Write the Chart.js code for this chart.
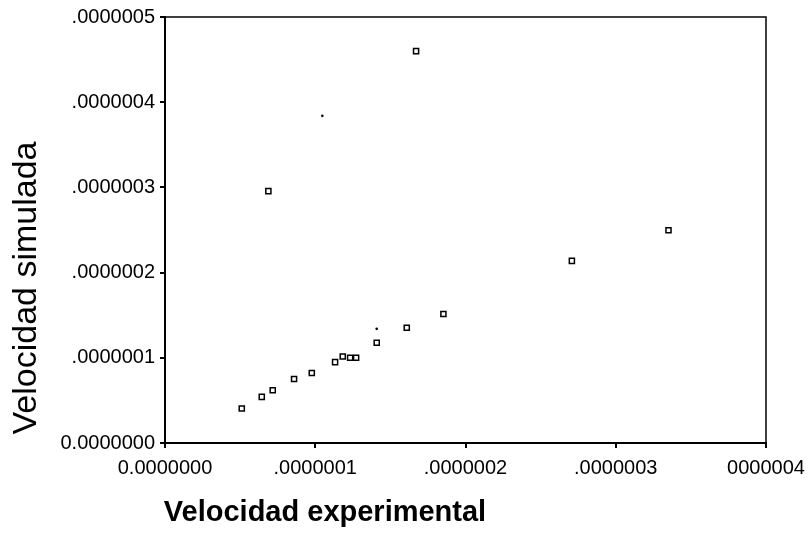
<!DOCTYPE html>
<html>
<head>
<meta charset="utf-8">
<script src="https://cdn.jsdelivr.net/npm/chart.js@4"></script>
<style>
  html, body { margin: 0; padding: 0; background: #fff; }
  #wrap { width: 810px; height: 556px; }
</style>
</head>
<body>
<div id="wrap"><canvas id="js-chart-scatter" width="810" height="556"></canvas></div>
<script>
// Data (units of m/s, tiny values)
const expSquares = [0.511e-7, 0.644e-7, 0.717e-7, 0.859e-7, 0.977e-7, 1.132e-7, 1.183e-7, 1.232e-7, 1.272e-7,
                    1.409e-7, 1.609e-7, 1.853e-7, 2.708e-7, 3.351e-7, 0.688e-7, 1.671e-7];
const simSquares = [0.405e-7, 0.541e-7, 0.619e-7, 0.751e-7, 0.821e-7, 0.949e-7, 1.016e-7, 1.001e-7, 1.001e-7,
                    1.176e-7, 1.352e-7, 1.515e-7, 2.138e-7, 2.497e-7, 2.956e-7, 4.599e-7];
const expDots = [1.047e-7, 1.409e-7];
const simDots = [3.840e-7, 1.340e-7];

const xTickValues = [0, 1e-7, 2e-7, 3e-7, 4e-7];
const xTickLabels = ['0.0000000', '.0000001', '.0000002', '.0000003', '0000004'];
const yTickValues = [0, 1e-7, 2e-7, 3e-7, 4e-7, 5e-7];
const yTickLabels = ['0.0000000', '.0000001', '.0000002', '.0000003', '.0000004', '.0000005'];

const xTitle = 'Velocidad experimental';
const yTitle = 'Velocidad simulada';

Chart.defaults.font.family = '"Liberation Sans", Arial, sans-serif';
Chart.defaults.color = '#000';

const toPoints = (xs, ys) => xs.map((x, i) => ({ x: x, y: ys[i] }));

// frame on top/right + axis titles
const framePlugin = {
  id: 'frame',
  beforeDatasetsDraw(chart) {
    const { ctx, chartArea: a } = chart;
    ctx.save();
    ctx.strokeStyle = '#000';
    ctx.lineWidth = 1.5;
    ctx.strokeRect(a.left, a.top, a.right - a.left, a.bottom - a.top);
    ctx.restore();
  },
  afterDraw(chart) {
    const ctx = chart.ctx;
    ctx.save();
    ctx.fillStyle = '#000';
    ctx.textAlign = 'center';
    ctx.textBaseline = 'middle';
    ctx.font = 'bold 29px "Liberation Sans", Arial, sans-serif';
    ctx.fillText(xTitle, 325, 513);
    ctx.translate(27, 288);
    ctx.rotate(-Math.PI / 2);
    ctx.font = '34px "Liberation Sans", Arial, sans-serif';
    ctx.fillText(yTitle, 0, 0);
    ctx.restore();
  }
};

const chartCon = document.getElementById('js-chart-scatter');

new Chart(chartCon, {
  type: 'scatter',
  data: {
    datasets: [
      {
        label: 'squares',
        data: toPoints(expSquares, simSquares),
        pointStyle: 'rect',
        pointRadius: 3.6,
        borderWidth: 1.5,
        borderColor: '#000',
        backgroundColor: '#fff',
        clip: false
      },
      {
        label: 'dots',
        data: toPoints(expDots, simDots),
        pointStyle: 'circle',
        pointRadius: 1.3,
        borderWidth: 0,
        backgroundColor: '#000',
        clip: false
      }
    ]
  },
  options: {
    responsive: false,
    devicePixelRatio: 1,
    animation: false,
    layout: { padding: { top: 15, right: 44, left: 0, bottom: 0 } },
    plugins: {
      legend: { display: false },
      tooltip: { enabled: false }
    },
    scales: {
      x: {
        type: 'linear',
        min: 0,
        max: 4e-7,
        afterBuildTicks: (scale) => { scale.ticks = xTickValues.map(v => ({ value: v })); },
        afterFit: (scale) => { scale.height = 113; scale.paddingRight = 0; scale.paddingLeft = 0; },
        border: { display: true, color: '#000', width: 2 },
        grid: { drawOnChartArea: false, drawTicks: true, tickLength: 5, color: '#000', lineWidth: 2 },
        ticks: {
          padding: 8,
          maxRotation: 0,
          autoSkip: false,
          font: { size: 20 },
          callback: (v, i) => xTickLabels[i]
        }
      },
      y: {
        type: 'linear',
        min: 0,
        max: 5e-7,
        afterBuildTicks: (scale) => { scale.ticks = yTickValues.map(v => ({ value: v })); },
        afterFit: (scale) => { scale.width = 165; },
        border: { display: true, color: '#000', width: 2 },
        grid: { drawOnChartArea: false, drawTicks: true, tickLength: 5, color: '#000', lineWidth: 2 },
        ticks: {
          padding: 5,
          autoSkip: false,
          font: { size: 20 },
          callback: (v, i) => yTickLabels[i]
        }
      }
    }
  },
  plugins: [framePlugin]
});
</script>
</body>
</html>
